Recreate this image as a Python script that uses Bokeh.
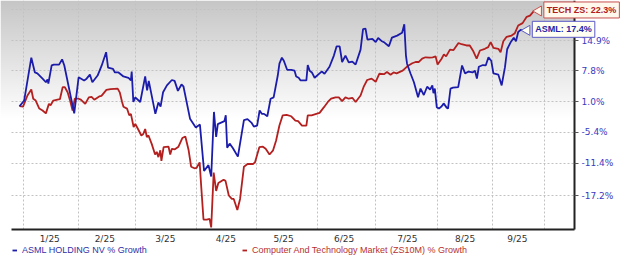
import math
import numpy as np
from bokeh.plotting import figure
from bokeh.models import (Range1d, FixedTicker, CustomJSTickFormatter, Legend,
                          LegendItem, Label)
from bokeh.embed import file_html
from bokeh.resources import INLINE

# ---------------- data (trading-session index, % growth) ----------------
asml_session = [0, 1.7, 4.3, 5.6, 6.5, 8.4, 9.6, 10.2, 10.5, 11.7,
                12.5, 14.4, 15.5, 16.3, 19.9, 21.5, 23.5, 24.4, 25.6, 26.5,
                28.4, 29.9, 31.5, 32.2, 34.0, 34.7, 36.0, 37.8, 39.6, 40.5,
                40.8, 41.4, 42.1, 43.9, 45.7, 46.4, 47.0, 49.4, 50.5, 51.3,
                52.2, 53.6, 55.4, 56.4, 57.6, 58.9, 59.6, 62.0, 64.1, 65.6,
                67.1, 68.7, 69.7, 70.7, 71.5, 72.1, 74.5, 75.0, 75.5, 76.4,
                77.5, 79.4, 81.6, 82.9, 84.3, 85.2, 86.4, 87.3, 88.1, 88.9,
                90.1, 91.3, 92.4, 93.9, 94.5, 95.4, 96.1, 97.3, 98.8, 100.0,
                100.6, 101.5, 102.2, 104.3, 104.8, 105.5, 106.3, 107.3, 109.1, 109.9,
                110.9, 112.7, 114.3, 115.3, 116.4, 117.3, 118.5, 119.7, 121.0, 122.2,
                124.0, 124.9, 125.8, 126.5, 128.3, 129.5, 130.4, 131.6, 132.7, 134.3,
                135.4, 137.3, 139.1, 139.9, 140.5, 140.9, 142.2, 143.4, 144.9, 145.8,
                147.0, 148.2, 149.3, 150.1, 150.5, 151.0, 151.7, 152.5, 153.5, 154.2,
                155.3, 155.8, 156.7, 157.6, 159.5, 160.9, 162.0, 163.3, 164.7, 165.6,
                166.3, 167.0, 168.5, 169.5, 170.5, 171.5, 172.3, 174.1, 175.3, 176.5,
                177.3, 178.5, 179.7, 180.5, 181.3, 182.2, 182.8]
asml_growth = [0, 1.2, 10.8, 7.4, 7.2, 6.0, 5.2, 5.8, 4.9, 9.0,
               9.2, 9.2, 10.4, 9.0, -1.5, 6.3, 5.6, 6.0, 6.9, 5.2,
               6.7, 9.0, 12.1, 8.5, 8.2, 7.4, 7.4, 6.5, 6.2, 5.6,
               7.6, 0.9, 1.9, 0.9, 6.5, 3.4, 5.5, -1.6, 0.8, -0.1,
               3.0, 4.5, 5.7, 5.5, 3.3, 4.7, 4.3, -2.6, -4.4, -3.8,
               -12.8, -11.7, -13.8, -1.2, -6.3, -3.7, -3.1, -1.9, -8.4, -7.6,
               -8.4, -10.1, -2.9, -2.7, -3.4, -4.2, -4.0, -0.9, -1.6, -1.6,
               -2.1, 1.6, 1.9, 6.7, 9.4, 10.8, 10.1, 8.0, 8.0, 7.8,
               6.5, 6.2, 5.6, 5.6, 9.1, 7.8, 7.4, 6.2, 7.2, 7.6,
               7.1, 8.7, 11.3, 13.5, 13.5, 9.8, 11.3, 9.7, 9.9, 9.2,
               12.7, 17.7, 17.8, 15.1, 15.3, 14.5, 15.5, 14.8, 14.4, 13.5,
               15.6, 16.1, 16.8, 18.9, 11.3, 9.4, 7.1, 5.2, 1.9, 3.8,
               2.4, 4.2, 3.6, 4.5, 2.8, 3.8, -0.2, -0.5, 0.0, 0.6,
               -0.3, -0.5, 3.8, 4.0, 4.1, 9.0, 7.2, 7.6, 7.4, 7.8,
               6.0, 8.7, 9.1, 9.0, 10.9, 10.1, 7.2, 6.9, 4.5, 8.6,
               12.8, 14.4, 15.6, 14.7, 17.0, 17.5, 17.4]

tech_session = [0, 1.3, 2.9, 4.3, 5.0, 5.9, 7.2, 8.4, 9.6, 10.7,
                11.3, 12.3, 13.8, 14.7, 15.7, 16.5, 17.5, 18.3, 19.3, 20.1,
                21.5, 22.3, 23.9, 25.2, 26.2, 27.2, 29.0, 29.8, 31.6, 33.1,
                35.7, 36.5, 37.3, 37.8, 39.1, 39.9, 40.5, 41.5, 42.1, 42.9,
                44.3, 45.0, 45.7, 46.3, 46.9, 48.1, 49.3, 49.9, 50.5, 51.2,
                51.6, 52.4, 54.2, 54.8, 55.4, 56.5, 57.8, 59.2, 60.3, 61.5,
                62.4, 63.6, 64.4, 65.5, 66.1, 66.9, 68.1, 69.1, 69.7, 70.6,
                71.5, 72.3, 74.2, 74.9, 76.1, 77.2, 77.9, 79.2, 80.2, 81.6,
                82.9, 84.9, 85.6, 87.2, 88.5, 89.5, 90.9, 92.2, 93.3, 94.5,
                95.7, 97.1, 98.8, 100.3, 101.3, 102.7, 104.3, 104.8, 106.2, 107.9,
                109.1, 110.7, 112.1, 113.3, 114.9, 116.1, 117.3, 118.5, 119.7, 121.0,
                122.2, 124.0, 125.2, 126.4, 128.0, 129.5, 130.8, 132.5, 133.6, 134.9,
                136.0, 137.1, 139.3, 141.0, 142.8, 144.0, 145.2, 146.4, 147.6, 149.1,
                150.2, 151.3, 152.0, 153.4, 154.3, 155.1, 156.5, 157.8, 159.6, 160.7,
                162.5, 163.7, 165.0, 166.2, 167.4, 169.2, 170.4, 171.3, 172.3, 174.1,
                174.9, 175.9, 177.1, 178.9, 180.1, 181.3, 182.9, 184.4, 185.6, 187.0]
tech_growth = [0, -0.1, 2.3, 3.6, 1.6, 1.2, -0.5, -0.9, -1.5, 0.5,
               0.2, 1.2, 1.4, 1.5, 4.1, 4.1, 3.0, 1.4, -0.9, 1.6,
               1.6, 1.4, 0.5, 1.9, 2.0, 1.4, 2.1, 2.2, 3.5, 3.7,
               3.8, 2.9, 0.9, -0.1, -0.5, -1.9, -1.6, -4.3, -3.7, -4.5,
               -6.0, -5.7, -4.7, -6.3, -6.0, -7.7, -9.7, -9.2, -10.2, -8.9,
               -10.9, -8.3, -8.2, -9.7, -8.6, -8.7, -8.2, -6.5, -6.2, -8.9,
               -12.0, -12.3, -12.2, -11.2, -15.8, -21.3, -21.3, -21.2, -22.6, -13.1,
               -16.4, -15.0, -14.4, -14.6, -17.2, -17.8, -17.8, -19.7, -17.8, -12.0,
               -11.5, -11.5, -11.2, -8.3, -8.2, -8.6, -9.7, -8.9, -7.0, -4.0,
               -1.9, -1.8, -2.1, -3.0, -3.1, -4.0, -4.0, -1.9, -1.9, -1.6,
               -1.4, -0.2, 0.9, 1.6, 1.9, 1.9, 1.1, 1.9, 1.6, 1.8,
               0.9, 2.3, 4.3, 5.7, 6.0, 5.3, 7.1, 7.0, 7.5, 6.9,
               7.4, 7.2, 7.8, 8.8, 9.5, 9.8, 9.8, 10.6, 10.9, 10.8,
               10.9, 11.1, 9.2, 10.5, 11.6, 11.1, 12.7, 12.6, 14.3, 14.0,
               13.7, 13.7, 12.3, 10.6, 12.5, 12.9, 13.3, 14.5, 13.1, 12.9,
               12.1, 14.7, 15.8, 16.1, 16.7, 18.6, 19.2, 20.8, 21.1, 22.3]

month_labels = ["1/25", "2/25", "3/25", "4/25", "5/25", "6/25", "7/25", "8/25", "9/25"]
month_label_pos = [11, 31, 53, 75, 96, 118, 141, 162, 181]
month_grid_pos = [1.5, 21.5, 42.2, 64.4, 86.0, 108.2, 129.6, 151.9, 171.9, 190.7]
y_tick_pct = [-17.2, -11.4, -5.4, 1.0, 7.8, 14.9, 22.6]

series_names = ["ASML HOLDING NV % Growth", "Computer And Technology Market (ZS10M) % Growth"]
end_tags = ["ASML: 17.4%", "TECH ZS: 22.3%"]

BLUE = "#1c1cab"
RED = "#b3201f"

# plotting area (data units) and whole canvas extents
X0, X1 = -2.9, 201.8
Y0, Y1 = 0.77058, 1.2504
CX0, CX1 = -6.9, 218.5
CY0 = 0.72326

p = figure(width=620, height=259, output_backend="svg", toolbar_location=None,
           y_axis_type="log", y_axis_location="right",
           x_range=Range1d(CX0, CX1), y_range=Range1d(CY0, Y1),
           min_border=0, min_border_left=0, min_border_right=0,
           min_border_top=0, min_border_bottom=0)
p.outline_line_color = None
p.border_fill_color = "white"
p.background_fill_color = "white"

# vertical gradient background of the plotting area
H = 229
img = np.empty((H, 1), dtype=np.uint32)
view = img.view(dtype=np.uint8).reshape((H, 1, 4))
for i in range(H):
    t = H - 1 - i
    g = int(round(198 + 57 * min(1.0, t / 118.0)))
    view[i, 0, :] = [g, g, g, 255]
p.image_rgba(image=[img], x=CX0, y=Y0, dw=X1 - CX0, dh=Y1 - Y0, level="image")

tech_y = [1 + v / 100.0 for v in tech_growth]
asml_y = [1 + v / 100.0 for v in asml_growth]
r_tech = p.line(tech_session, tech_y, line_color=RED, line_width=1.8)
r_asml = p.line(asml_session, asml_y, line_color=BLUE, line_width=1.8)

# axes (fixed inside the canvas so that tags and legend are not clipped)
xa = p.xaxis[0]
xa.fixed_location = Y0
xa.bounds = (X0, X1)
xa.ticker = FixedTicker(ticks=month_label_pos)
xa.major_label_overrides = {pos: lab for pos, lab in zip(month_label_pos, month_labels)}
xa.axis_line_color = "#222222"
xa.axis_line_width = 2
xa.major_tick_out = 0
xa.major_tick_in = 0
xa.minor_tick_out = 0
xa.minor_tick_in = 0
xa.major_label_standoff = 4
xa.major_label_text_font = "DejaVu Sans"
xa.major_label_text_font_size = "9px"
xa.major_label_text_color = "#333333"

y_ticks = [1 + v / 100.0 for v in y_tick_pct]
ya = p.yaxis[0]
ya.fixed_location = X1
ya.bounds = (Y0, Y1)
ya.ticker = FixedTicker(ticks=y_ticks, minor_ticks=[])
ya.formatter = CustomJSTickFormatter(code="""
    if (tick > 1.2) { return ''; }
    return ((tick - 1) * 100).toFixed(1) + '%';
""")
ya.axis_line_color = "#222222"
ya.axis_line_width = 2
ya.major_tick_out = 4
ya.major_tick_in = 0
ya.major_tick_line_color = "#555555"
ya.minor_tick_out = 0
ya.minor_tick_in = 0
ya.major_label_standoff = 3
ya.major_label_text_font = "DejaVu Sans"
ya.major_label_text_font_size = "9px"
ya.major_label_text_color = "#3a3ac0"

p.xgrid.ticker = FixedTicker(ticks=month_grid_pos)
p.xgrid.bounds = (X0, X1)
p.xgrid.cross_bounds = (Y0, Y1)
p.ygrid.ticker = FixedTicker(ticks=y_ticks, minor_ticks=[])
p.ygrid.bounds = (Y0, Y1)
p.ygrid.cross_bounds = (X0, X1)
for gr in (p.xgrid, p.ygrid):
    gr.grid_line_color = "#c2c2c2"
    gr.grid_line_dash = "2 2"
    gr.grid_line_width = 1

# end-of-line tags (pointer + box)
tags = [(asml_session[-1], asml_y[-1], end_tags[0], "#2424a8", "#fffff2", "#5a5ac8"),
        (tech_session[-1], tech_y[-1], end_tags[1], "#b02020", "#fff8ec", "#c85050")]
for sess, yv, txt, col, fill, border in tags:
    p.scatter([sess + 1.7], [yv], marker="triangle", size=10, angle=math.pi / 2,
              fill_color=fill, line_color=border, line_width=1)
    p.add_layout(Label(x=sess, y=yv, text=txt, x_offset=10, y_offset=1,
                       text_baseline="middle", text_align="left",
                       text_font="Liberation Sans", text_font_size="9px",
                       text_font_style="bold", text_color=col,
                       background_fill_color=fill, border_line_color=border,
                       border_line_width=1, padding=3))

# legends (one per series so each text keeps its own colour)
for r, name, col, xloc in [(r_asml, series_names[0], "#3030a8", 12),
                           (r_tech, series_names[1], "#b83030", 242)]:
    leg = Legend(items=[LegendItem(label=name, renderers=[r])],
                 location=(xloc, 4), orientation="horizontal",
                 glyph_width=5, glyph_height=10, label_standoff=5,
                 label_text_font="Liberation Sans", label_text_font_size="9px",
                 label_text_color=col, background_fill_alpha=0,
                 border_line_color=None, padding=0, margin=0, spacing=0,
                 label_height=10)
    p.add_layout(leg)

open("out.html", "w").write(file_html(p, INLINE))
